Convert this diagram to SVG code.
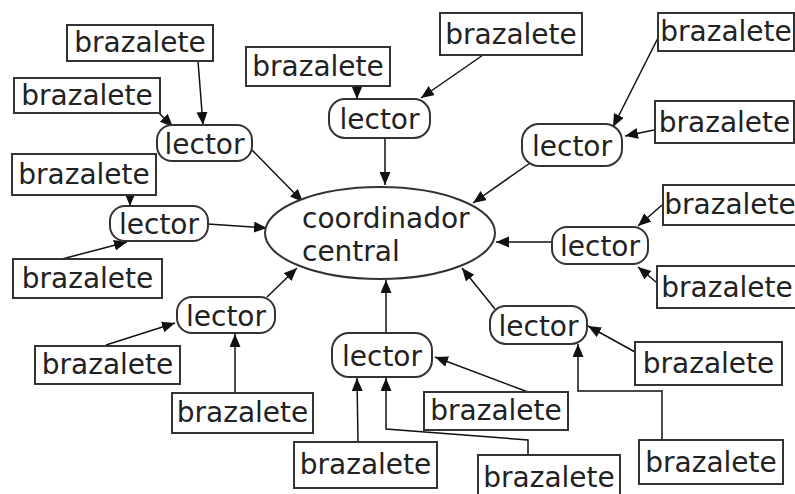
<svg xmlns="http://www.w3.org/2000/svg" width="795" height="494" viewBox="0 0 795 494">
<defs>
<marker id="ah" markerUnits="userSpaceOnUse" markerWidth="14" markerHeight="12" refX="13" refY="5.5" orient="auto">
<path d="M0,0 L13,5.5 L0,11 z" fill="#111"/>
</marker>
</defs>
<style>
.b{fill:#fff;stroke:#333;stroke-width:2}
.l{fill:#fff;stroke:#333;stroke-width:2}
.t{font-family:"DejaVu Sans",Verdana,sans-serif;font-size:28px;fill:#222;text-anchor:middle}
.c path{fill:none;stroke:#111;stroke-width:1.5;marker-end:url(#ah)}
</style>
<rect width="795" height="494" fill="#fff"/>
<g id="connectors" class="c">
<path d="M198,61 L203,125"/>
<path d="M159,113 L173,127"/>
<path d="M130,195 L130,206"/>
<path d="M208,224 L267,228"/>
<path d="M62,259 L127,242"/>
<path d="M106,345 L175,323"/>
<path d="M235,393 L235,334"/>
<path d="M252,150 L303,202"/>
<path d="M357,86 L357,99"/>
<path d="M483,55 L421,98"/>
<path d="M385,138 L385,185"/>
<path d="M661,32 L613,127"/>
<path d="M654,130 L625,136"/>
<path d="M530,163 L473,203"/>
<path d="M662,205 L638,226"/>
<path d="M662,287 L638,267"/>
<path d="M552,242 L496,242"/>
<path d="M635,352 L588,326"/>
<path d="M662,440 L662,391 L578,391 L578,344"/>
<path d="M495,309 L462,268"/>
<path d="M267,297 L297,268"/>
<path d="M386,333 L386,280"/>
<path d="M358,442 L357,378"/>
<path d="M528,455 L528,440 L386,429 L386,378"/>
<path d="M528,392 L435,357"/>
</g>
<g id="coordinador">
<ellipse cx="380" cy="233" rx="115" ry="46" class="l"/>
<text x="302" y="228" class="t" style="text-anchor:start">coordinador</text>
<text x="302" y="261" class="t" style="text-anchor:start">central</text>
</g>
<g id="lector1"><rect x="157" y="125" width="95" height="36" rx="15" class="l"/><text x="204.5" y="154" class="t">lector</text></g>
<g id="lector2"><rect x="110" y="206" width="98" height="35" rx="15" class="l"/><text x="159" y="234" class="t">lector</text></g>
<g id="lector3"><rect x="177" y="297" width="98" height="36" rx="15" class="l"/><text x="226" y="326" class="t">lector</text></g>
<g id="lector4"><rect x="329" y="99" width="101" height="39" rx="16" class="l"/><text x="379.5" y="129" class="t">lector</text></g>
<g id="lector5"><rect x="522" y="124" width="100" height="42" rx="17" class="l"/><text x="572" y="156" class="t">lector</text></g>
<g id="lector6"><rect x="552" y="227" width="96" height="37" rx="15" class="l"/><text x="600" y="256" class="t">lector</text></g>
<g id="lector7"><rect x="490" y="306" width="97" height="38" rx="16" class="l"/><text x="538.5" y="336" class="t">lector</text></g>
<g id="lector8"><rect x="332" y="333" width="100" height="44" rx="17" class="l"/><text x="382" y="366" class="t">lector</text></g>
<g id="brazaleteA"><rect x="67" y="25" width="146" height="36" class="b"/><text x="140" y="52" class="t">brazalete</text></g>
<g id="brazaleteB"><rect x="14" y="78" width="146" height="35" class="b"/><text x="87" y="105" class="t">brazalete</text></g>
<g id="brazaleteC"><rect x="12" y="154" width="144" height="41" class="b"/><text x="84" y="184" class="t">brazalete</text></g>
<g id="brazaleteD"><rect x="13" y="259" width="149" height="39" class="b"/><text x="87.5" y="288" class="t">brazalete</text></g>
<g id="brazaleteE"><rect x="35" y="346" width="145" height="38" class="b"/><text x="107.5" y="374" class="t">brazalete</text></g>
<g id="brazaleteF"><rect x="172" y="393" width="141" height="40" class="b"/><text x="242.5" y="422" class="t">brazalete</text></g>
<g id="brazaleteG"><rect x="246" y="47" width="144" height="39" class="b"/><text x="318" y="76" class="t">brazalete</text></g>
<g id="brazaleteH"><rect x="440" y="13" width="142" height="42" class="b"/><text x="511" y="44" class="t">brazalete</text></g>
<g id="brazaleteI"><rect x="658" y="13" width="136" height="38" class="b"/><text x="726" y="41" class="t">brazalete</text></g>
<g id="brazaleteJ"><rect x="655" y="101" width="139" height="42" class="b"/><text x="724.5" y="132" class="t">brazalete</text></g>
<g id="brazaleteK"><rect x="663" y="185" width="134" height="40" class="b"/><text x="730" y="214" class="t">brazalete</text></g>
<g id="brazaleteL"><rect x="657" y="266" width="140" height="42" class="b"/><text x="727" y="297" class="t">brazalete</text></g>
<g id="brazaleteM"><rect x="635" y="342" width="147" height="43" class="b"/><text x="708.5" y="373" class="t">brazalete</text></g>
<g id="brazaleteN"><rect x="639" y="440" width="144" height="44" class="b"/><text x="711" y="472" class="t">brazalete</text></g>
<g id="brazaleteO"><rect x="478" y="455" width="142" height="46" class="b"/><text x="549" y="487" class="t">brazalete</text></g>
<g id="brazaleteP"><rect x="294" y="442" width="143" height="46" class="b"/><text x="365.5" y="474" class="t">brazalete</text></g>
<g id="brazaleteQ"><rect x="424" y="392" width="144" height="38" class="b"/><text x="496" y="420" class="t">brazalete</text></g>
</svg>
